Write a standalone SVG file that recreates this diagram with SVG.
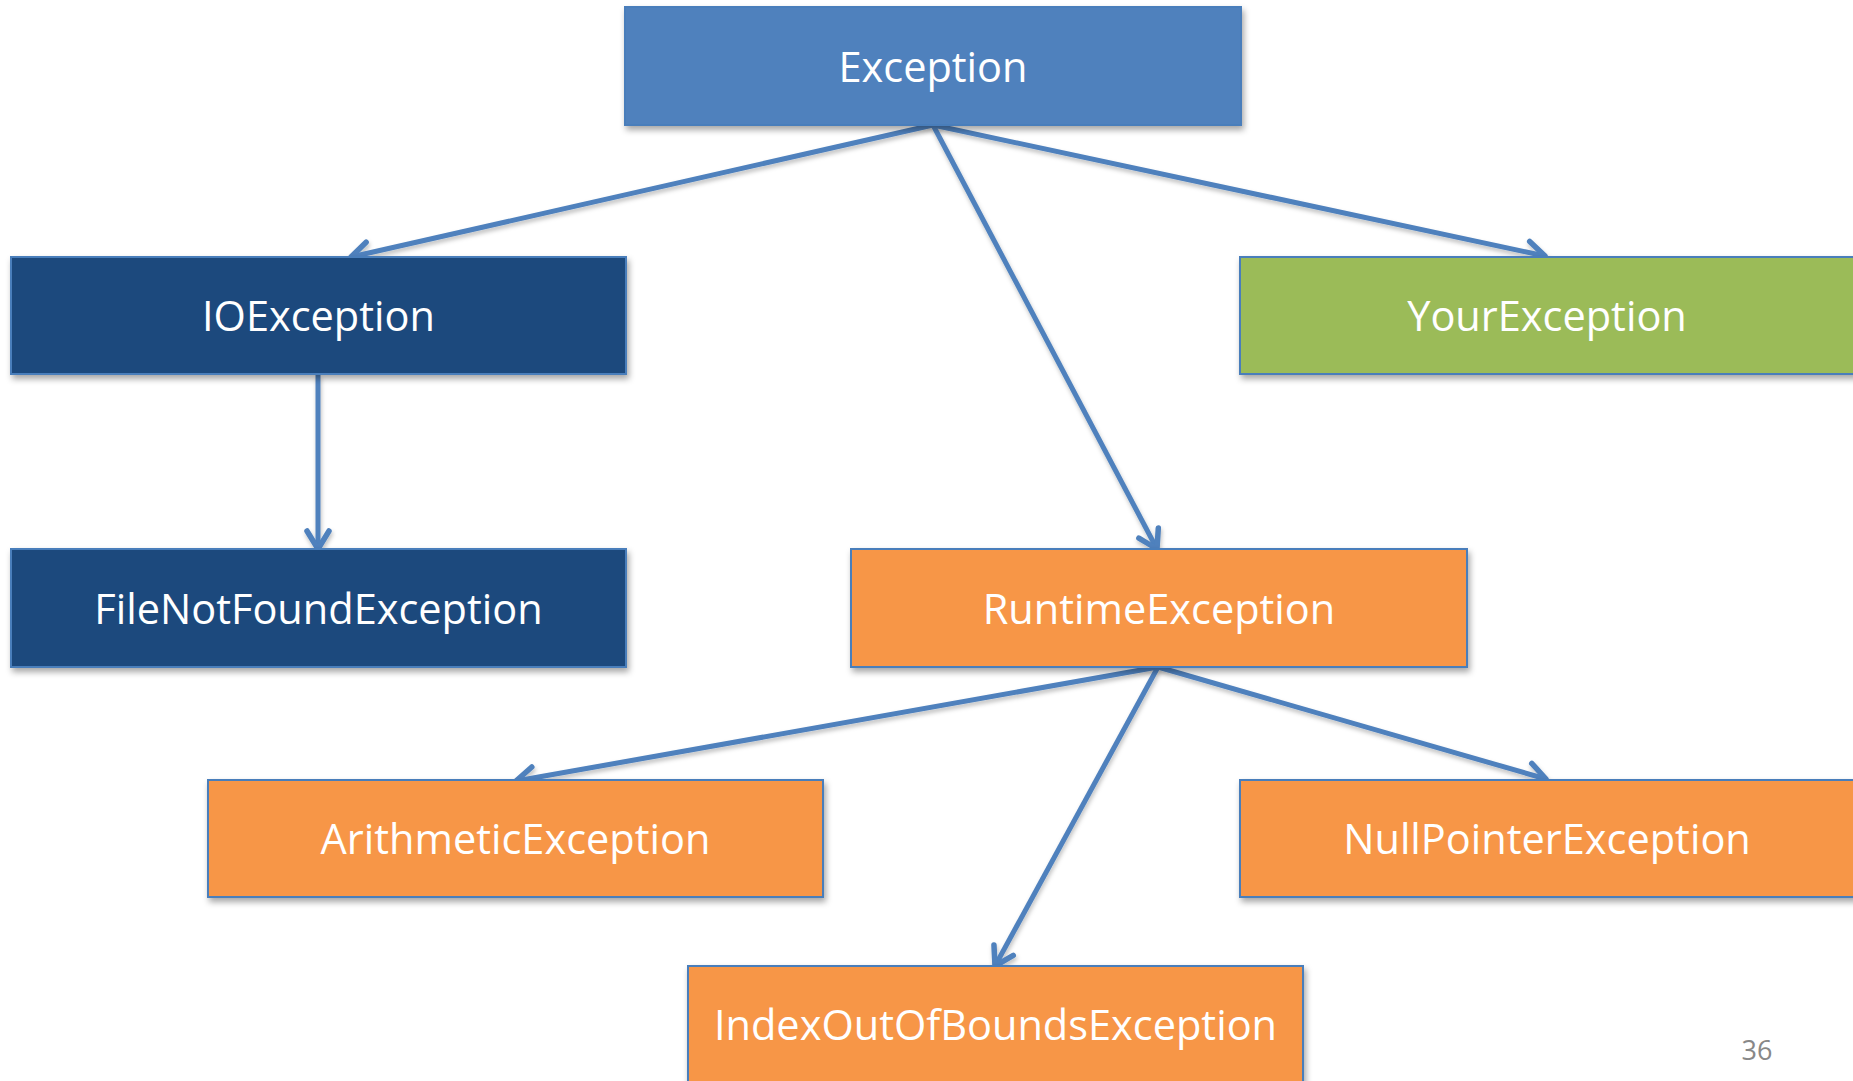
<svg xmlns="http://www.w3.org/2000/svg" width="1853" height="1081" viewBox="0 0 1853 1081">
<defs>
<filter id="sh" x="-10%" y="-20%" width="120%" height="150%">
<feDropShadow dx="2" dy="4" stdDeviation="3" flood-color="#000" flood-opacity="0.35"/>
</filter>
<filter id="lsh" x="-20%" y="-20%" width="140%" height="140%">
<feDropShadow dx="1" dy="3" stdDeviation="2" flood-color="#000" flood-opacity="0.25"/>
</filter>
<marker id="arr" viewBox="0 0 30 30" markerWidth="30" markerHeight="30" refX="25" refY="15" orient="auto" markerUnits="userSpaceOnUse">
<path d="M7,4 L25,15 L7,26" fill="none" stroke="#4F81BD" stroke-width="5.5" stroke-linecap="round" stroke-linejoin="round"/>
</marker>
<style>
.box{stroke:#4A7EBB;stroke-width:2;filter:url(#sh)}
.blue{fill:#4F81BD}
.dark{fill:#1F497D}
.green{fill:#9BBB59}
.orange{fill:#F79646}
.lbl{font-family:"Open Sans","Noto Sans",sans-serif;font-size:41.5px;fill:#FFFFFF;text-anchor:middle}
.conn{stroke:#4F81BD;stroke-width:5;fill:none;marker-end:url(#arr)}
.page{font-family:"Open Sans","Noto Sans",sans-serif;font-size:27px;fill:#888888}
</style>
</defs>
<g id="connectors" filter="url(#lsh)">
<line class="conn" x1="933" y1="125" x2="351" y2="257"/>
<line class="conn" x1="933" y1="125" x2="1545" y2="256"/>
<line class="conn" x1="933" y1="125" x2="1157" y2="549"/>
<line class="conn" x1="318" y1="375" x2="318" y2="549"/>
<line class="conn" x1="1158" y1="667" x2="516" y2="781"/>
<line class="conn" x1="1158" y1="667" x2="1546" y2="779"/>
<line class="conn" x1="1158" y1="667" x2="995" y2="966"/>
</g>
<g id="node-exception">
<rect class="box blue" x="625" y="7" width="616" height="118"/>
<text class="lbl" x="933" y="81.5">Exception</text>
</g>
<g id="node-ioexception">
<rect class="box dark" x="11" y="257" width="615" height="117"/>
<text class="lbl" x="318.5" y="331">IOException</text>
</g>
<g id="node-yourexception">
<rect class="box green" x="1240" y="257" width="616" height="117"/>
<text class="lbl" x="1547" y="331">YourException</text>
</g>
<g id="node-filenotfoundexception">
<rect class="box dark" x="11" y="549" width="615" height="118"/>
<text class="lbl" x="318.5" y="624">FileNotFoundException</text>
</g>
<g id="node-runtimeexception">
<rect class="box orange" x="851" y="549" width="616" height="118"/>
<text class="lbl" x="1159" y="624">RuntimeException</text>
</g>
<g id="node-arithmeticexception">
<rect class="box orange" x="208" y="780" width="615" height="117"/>
<text class="lbl" x="515.5" y="854">ArithmeticException</text>
</g>
<g id="node-nullpointerexception">
<rect class="box orange" x="1240" y="780" width="616" height="117"/>
<text class="lbl" x="1547" y="854">NullPointerException</text>
</g>
<g id="node-indexoutofboundsexception">
<rect class="box orange" x="688" y="966" width="615" height="125"/>
<text class="lbl" x="995.5" y="1040">IndexOutOfBoundsException</text>
</g>
<text class="page" x="1757" y="1060" text-anchor="middle">36</text>
</svg>
